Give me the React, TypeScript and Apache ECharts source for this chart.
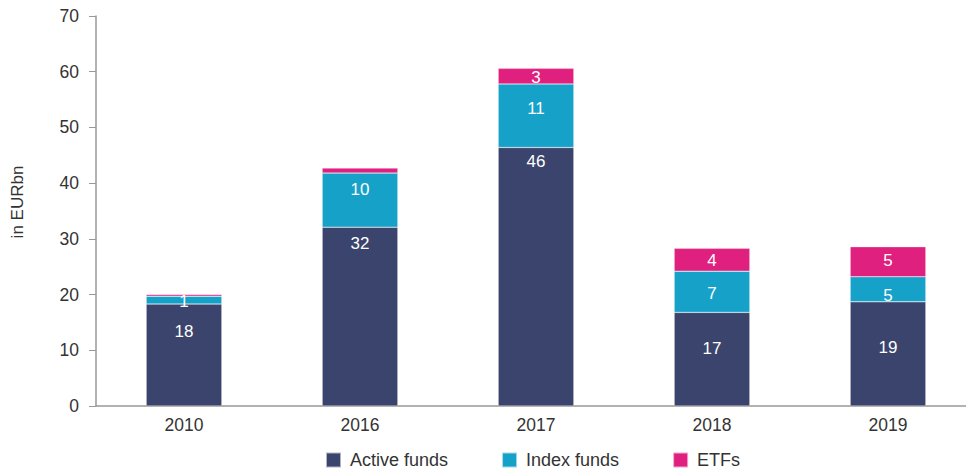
import React, { useEffect, useRef } from "react";
import * as echarts from "echarts";

const categories = ["2010", "2016", "2017", "2018", "2019"];
const activeFunds = [18.3, 32.1, 46.4, 16.8, 18.7];
const indexFunds = [1.4, 9.7, 11.4, 7.4, 4.5];
const etfs = [0.3, 0.9, 2.8, 4.1, 5.4];
const yTicks = [0, 10, 20, 30, 40, 50, 60, 70];

// label vertical nudges (layout only, px)
const activeLabelDy = [-24, -73, -115, -11, -6];
const indexLabelDy = [1.5, -11, -7, 2, 6];
const etfLabelDy = [0, 0, 1, 1, -1];

const FONT = "'Liberation Sans', Arial, Helvetica, sans-serif";

export default function App() {
  const ref = useRef<HTMLDivElement>(null);
  useEffect(() => {
    if (!ref.current) return;
    const chart = echarts.init(ref.current, undefined, { renderer: "svg" });
    const label = {
      show: true,
      position: "inside",
      color: "#ffffff",
      fontSize: 17,
      fontFamily: FONT,
      formatter: (p: any) => (p.value < 1 ? "" : String(Math.round(p.value))),
    };
    const mk = (name: string, data: number[], dys: number[], color: string) => ({
      name,
      type: "bar",
      stack: "total",
      data: data.map((v, i) => ({ value: v, label: { offset: [0, dys[i]] } })),
      barWidth: "43%",
      itemStyle: { color, borderColor: "rgba(255,255,255,0.6)", borderWidth: 0.5 },
      label,
    });
    chart.setOption({
      animation: false,
      textStyle: { fontFamily: FONT },
      grid: { left: 96, width: 880, top: 16, bottom: 64 },
      legend: {
        left: 325,
        top: 451,
        padding: 0,
        itemWidth: 15,
        itemHeight: 15,
        itemGap: 53,
        icon: "rect",
        textStyle: { fontSize: 18, color: "#333", fontFamily: FONT, padding: [0, 0, 0, 4] },
        data: ["Active funds", "Index funds", "ETFs"],
      },
      xAxis: {
        type: "category",
        data: categories,
        axisLine: { lineStyle: { color: "#999", width: 1.5 } },
        axisTick: { show: false },
        axisLabel: { color: "#333", fontSize: 17.5, margin: 10, fontFamily: FONT },
      },
      yAxis: {
        type: "value",
        min: yTicks[0],
        max: yTicks[yTicks.length - 1],
        interval: 10,
        name: "in EURbn",
        nameLocation: "middle",
        nameGap: 70,
        nameTextStyle: { color: "#333", fontSize: 17, fontFamily: FONT, padding: [0, 0, 0, 18] },
        axisLine: { show: true, lineStyle: { color: "#999", width: 1.5 } },
        axisTick: { show: true, length: 7, lineStyle: { color: "#999" } },
        splitLine: { show: false },
        axisLabel: { color: "#333", fontSize: 17.5, margin: 17, fontFamily: FONT },
      },
      series: [
        mk("Active funds", activeFunds, activeLabelDy, "#3b446c"),
        mk("Index funds", indexFunds, indexLabelDy, "#16a1c9"),
        mk("ETFs", etfs, etfLabelDy, "#e0207e"),
      ],
    });
    return () => chart.dispose();
  }, []);
  return (
    <div
      style={{ position: "absolute", left: 0, top: 0, width: 966, height: 470, overflow: "hidden" }}
    >
      <div ref={ref} style={{ width: 1000, height: 470 }} />
    </div>
  );
}
